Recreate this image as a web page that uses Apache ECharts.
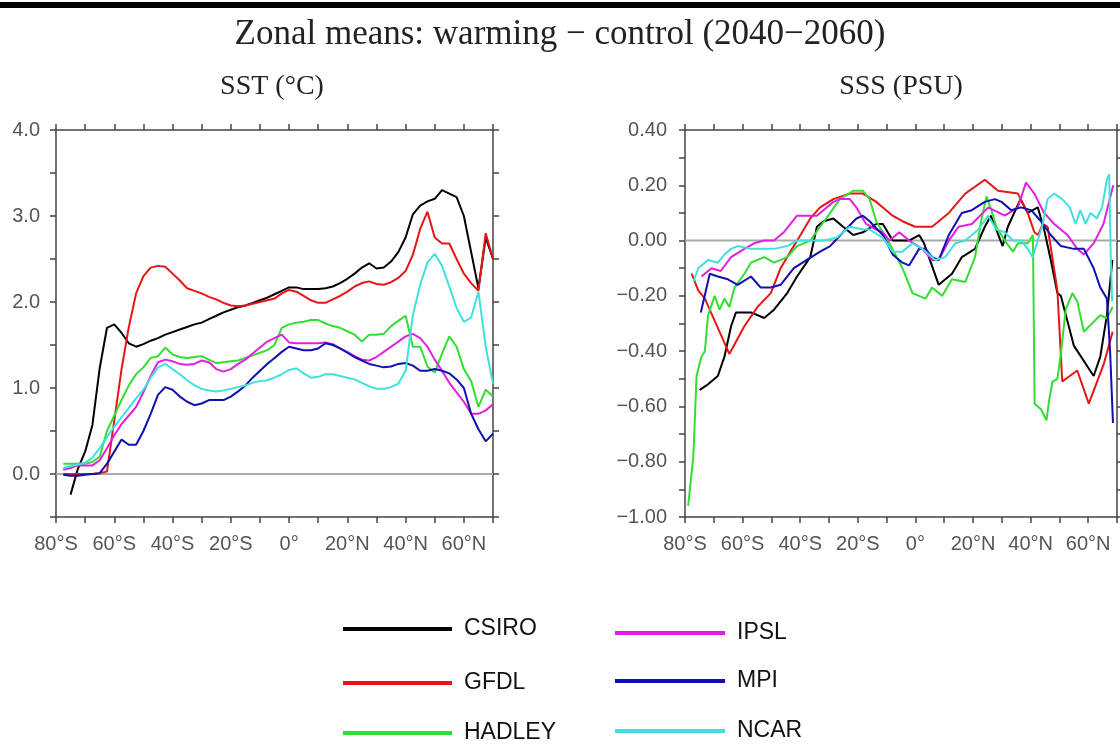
<!DOCTYPE html>
<html><head><meta charset="utf-8">
<script src="https://cdn.jsdelivr.net/npm/echarts/dist/echarts.min.js"></script>
<style>html,body{margin:0;padding:0;background:#fff}#c{width:1120px;height:744px}</style>
</head><body><div id="c"></div>
<script>
const models = ['CSIRO', 'GFDL', 'HADLEY', 'IPSL', 'MPI', 'NCAR'];
const modelColors = ['#000000', '#e81515', '#33dd33', '#e020e0', '#1010b0', '#40e0e0'];

// SST panel: common latitude grid
const sstLat = [-80,-77.5,-75,-72.5,-70,-67.5,-65,-62.5,-60,-57.5,-55,-52.5,-50,-47.5,-45,-42.5,-40,-37.5,-35,-32.5,
  -30,-27.5,-25,-22.5,-20,-17.5,-15,-12.5,-10,-7.5,-5,-2.5,0,2.5,5,7.5,10,12.5,15,17.5,
  20,22.5,25,27.5,30,32.5,35,37.5,40,42.5,45,47.5,50,52.5,55,57.5,60,62.5,65,67.5,70];
const sstCSIRO = [null,null,-0.24,0.06,0.26,0.57,1.23,1.70,1.74,1.64,1.52,1.48,1.51,1.55,1.58,1.62,1.65,1.68,1.71,1.74,
  1.76,1.80,1.84,1.88,1.91,1.94,1.96,1.99,2.02,2.05,2.09,2.13,2.17,2.17,2.15,2.15,2.15,2.16,2.18,2.22,
  2.27,2.33,2.40,2.45,2.39,2.40,2.47,2.58,2.75,3.02,3.12,3.17,3.20,3.30,3.26,3.22,3.00,2.58,2.16,2.75,2.50];
const sstGFDL = [null,0.0,0.0,0.0,0.0,0.0,0.01,0.03,0.62,1.22,1.71,2.10,2.30,2.40,2.42,2.41,2.33,2.25,2.16,2.13,
  2.10,2.06,2.03,1.99,1.96,1.95,1.96,1.98,2.00,2.02,2.04,2.10,2.14,2.12,2.07,2.02,1.99,1.99,2.03,2.07,
  2.12,2.18,2.22,2.24,2.21,2.20,2.23,2.28,2.36,2.55,2.85,3.05,2.75,2.68,2.68,2.50,2.33,2.22,2.13,2.80,2.50];
const sstHADLEY = [null,0.12,0.12,0.12,0.12,0.14,0.20,0.50,0.68,0.86,1.03,1.16,1.24,1.35,1.37,1.47,1.39,1.36,1.35,1.36,
  1.37,1.33,1.29,1.30,1.31,1.32,1.35,1.38,1.41,1.44,1.50,1.70,1.74,1.76,1.77,1.79,1.79,1.75,1.72,1.70,
  1.66,1.62,1.54,1.62,1.62,1.63,1.72,1.78,1.84,1.48,1.48,1.25,1.18,1.40,1.60,1.48,1.22,1.08,0.78,0.98,0.90];
const sstIPSL = [null,0.05,0.07,0.10,0.10,0.10,0.16,0.30,0.45,0.58,0.68,0.78,0.95,1.14,1.30,1.33,1.31,1.28,1.27,1.28,
  1.32,1.30,1.22,1.19,1.22,1.28,1.33,1.40,1.47,1.54,1.58,1.62,1.53,1.52,1.52,1.52,1.52,1.53,1.51,1.46,
  1.42,1.37,1.33,1.32,1.36,1.42,1.48,1.54,1.60,1.63,1.58,1.48,1.33,1.20,1.06,0.95,0.84,0.70,0.70,0.74,0.81];
const sstMPI = [null,-0.01,-0.02,-0.02,-0.01,0.0,0.01,0.12,0.26,0.40,0.34,0.34,0.50,0.70,0.92,1.01,0.98,0.90,0.84,0.80,
  0.82,0.86,0.86,0.86,0.90,0.96,1.03,1.12,1.20,1.28,1.35,1.42,1.48,1.46,1.44,1.44,1.46,1.52,1.50,1.46,
  1.41,1.36,1.32,1.28,1.26,1.24,1.25,1.28,1.29,1.26,1.20,1.20,1.22,1.20,1.17,1.10,1.00,0.70,0.52,0.38,0.47];
const sstNCAR = [null,0.07,0.09,0.11,0.13,0.19,0.30,0.43,0.55,0.66,0.77,0.88,0.98,1.12,1.24,1.28,1.22,1.16,1.09,1.03,
  0.99,0.97,0.96,0.97,0.99,1.01,1.03,1.06,1.08,1.09,1.12,1.16,1.21,1.23,1.17,1.12,1.13,1.16,1.16,1.14,
  1.12,1.10,1.06,1.02,0.99,0.99,1.01,1.05,1.20,1.85,2.20,2.46,2.56,2.42,2.18,1.93,1.77,1.82,2.12,1.48,1.05];

// SSS panel: each model read at its own latitudes
const sssCSIROLat = [-74.9,-72,-68.6,-66.3,-64,-62.3,-57.1,-52.5,-49.1,-44.5,-41.1,-36.5,-34.2,-31.9,-28.5,-25.1,-21.6,-18.2,-13.6,-11.3,
  -7.9,-4.5,-2.2,1.3,3,8.1,12.7,16.1,20.7,24.1,26.2,30.3,32.1,36.5,39,42.5,44.7,47,49.3,50.5,55,61.9,64.2,66.5,68.4];
const sssCSIRO = [-0.54,-0.52,-0.49,-0.42,-0.31,-0.26,-0.26,-0.28,-0.25,-0.19,-0.13,-0.06,0.05,0.07,0.08,0.05,0.02,0.03,0.06,0.06,
  0.0,0.0,0.0,0.02,-0.01,-0.16,-0.12,-0.06,-0.03,0.05,0.09,-0.02,0.05,0.15,0.10,0.12,0.04,-0.07,-0.19,-0.20,-0.38,-0.49,-0.42,-0.27,-0.07];
const sssGFDLLat = [-77.7,-75.4,-73.1,-64.6,-59.4,-54.8,-50.2,-46.8,-43.4,-39.9,-36.5,-33.1,-28.5,-22.8,-18.2,-13.6,-11.3,-7.9,-4.5,-0.1,
  5.8,11.6,17.3,24.1,28.7,35.6,39,41.3,42.6,44.2,45.9,49.3,51,56.2,60.2,65.3,68.5];
const sssGFDL = [-0.12,-0.18,-0.21,-0.41,-0.31,-0.24,-0.19,-0.10,-0.04,0.02,0.08,0.12,0.15,0.17,0.17,0.14,0.12,0.09,0.07,0.05,
  0.05,0.10,0.17,0.22,0.18,0.17,0.10,0.03,0.02,0.06,0.05,-0.18,-0.51,-0.47,-0.59,-0.45,-0.33];
const sssHADLEYLat = [-78.9,-77.1,-76,-74.3,-73.1,-72,-69.7,-68,-66.3,-64.6,-62.8,-59.4,-57.1,-52.5,-49.1,-44.5,-41.1,-36.5,-33.1,-29.6,
  -26.2,-21.6,-18.2,-15.9,-13.6,-9,-4.5,-1,3.5,5.8,9.3,12.7,17.3,20.7,23,24.7,26.4,28.1,31,33.9,
  35.6,39,40.8,41.4,43.6,45.5,46.4,47.6,49.3,50.5,52.2,54.5,56.2,58.5,61.3,64.2,66.5,68.5];
const sssHADLEY = [-0.96,-0.78,-0.49,-0.42,-0.40,-0.27,-0.20,-0.25,-0.21,-0.24,-0.17,-0.12,-0.08,-0.06,-0.08,-0.06,-0.02,0.0,0.05,0.10,
  0.15,0.18,0.18,0.15,0.07,-0.01,-0.10,-0.19,-0.21,-0.17,-0.20,-0.14,-0.15,-0.06,0.08,0.16,0.11,0.05,0.0,-0.04,
  -0.01,-0.01,0.02,-0.59,-0.61,-0.65,-0.58,-0.51,-0.50,-0.41,-0.25,-0.19,-0.22,-0.33,-0.30,-0.27,-0.28,-0.24];
const sssIPSLLat = [-74.3,-70.8,-67.6,-64,-59.4,-56,-52.5,-49.1,-45.7,-41.1,-34.2,-28.5,-26.2,-22.8,-20.5,-17.1,-13.6,-11.3,-9,-5.6,
  -2.2,2.4,5.8,8.1,11.6,15,19.6,25.3,31,35.6,38.4,41.3,44.7,48.2,52.8,56.2,58.5,61.9,65.3,68.7];
const sssIPSL = [-0.13,-0.10,-0.11,-0.06,-0.03,-0.01,0.0,0.0,0.03,0.09,0.09,0.14,0.15,0.15,0.12,0.06,0.04,0.03,0.0,0.03,
  0.0,-0.03,-0.07,-0.07,0.0,0.05,0.06,0.12,0.09,0.12,0.21,0.17,0.10,0.06,0.02,-0.03,-0.05,-0.01,0.06,0.20];
const sssMPILat = [-74.5,-71.4,-68.6,-65.1,-61.7,-57.1,-53.7,-50.2,-46.8,-42.2,-37.7,-33.1,-29.6,-25.1,-20.5,-18.2,-15.9,-11.3,-7.9,-4.5,
  -2.2,1.3,3.5,5.8,8.1,11.6,16.1,19.6,24.1,27.6,29.9,33.3,36.7,40.2,43.6,47,50.5,55,58.5,61.9,64.2,66.5,67.6,68.6];
const sssMPI = [-0.26,-0.12,-0.13,-0.14,-0.16,-0.13,-0.17,-0.17,-0.16,-0.10,-0.07,-0.04,-0.02,0.03,0.08,0.09,0.07,0.02,-0.05,-0.08,
  -0.09,-0.03,-0.03,-0.06,-0.07,0.02,0.10,0.11,0.14,0.15,0.14,0.11,0.12,0.11,0.07,0.02,-0.02,-0.03,-0.03,-0.10,-0.17,-0.21,-0.40,-0.66];
const sssNCARLat = [-77.1,-75.4,-72,-68.6,-66.3,-64,-61.7,-57.1,-53.7,-49.1,-44.5,-41.1,-36.5,-31.9,-27.4,-22.8,-18.2,-15.9,-11.3,-7.9,
  -4.5,-1,2.4,6.9,10.4,13.8,17.3,21.9,25.3,28.1,31,33.9,36.7,39,40.7,42.5,44.2,45.9,48.2,51,
  53.6,55.6,57.3,59.1,60.8,63,64.8,66.5,67.3,67.8,68.3];
const sssNCAR = [-0.15,-0.10,-0.07,-0.08,-0.05,-0.03,-0.02,-0.03,-0.03,-0.03,-0.02,0.0,0.0,0.0,0.01,0.05,0.04,0.04,0.01,-0.04,
  -0.04,-0.01,-0.03,-0.07,-0.06,-0.01,0.0,0.04,0.09,0.04,0.03,0.0,0.0,-0.03,-0.06,0.0,0.06,0.15,0.17,0.15,
  0.12,0.06,0.11,0.06,0.10,0.08,0.12,0.22,0.24,-0.05,-0.22];

const sstSeries = [sstCSIRO, sstGFDL, sstHADLEY, sstIPSL, sstMPI, sstNCAR];
const sssSeriesLat = [sssCSIROLat, sssGFDLLat, sssHADLEYLat, sssIPSLLat, sssMPILat, sssNCARLat];
const sssSeries = [sssCSIRO, sssGFDL, sssHADLEY, sssIPSL, sssMPI, sssNCAR];

const titleText = 'Zonal means: warming \u2212 control (2040\u22122060)';
const panelTitles = ['SST (\u00B0C)', 'SSS (PSU)'];

const axisColor = '#444';
const labelColor = '#555';
const sansFont = "'Liberation Sans', Arial, sans-serif";
const serifFont = "'Liberation Serif', 'Times New Roman', serif";

function latFmt(v) {
  const r = Math.round(v);
  if (r % 20 !== 0) return '';
  if (r === 0) return '0\u00B0';
  return Math.abs(r) + '\u00B0' + (r < 0 ? 'S' : 'N');
}
function sstFmt(v) {
  if (Math.abs(v - Math.round(v)) > 1e-6) return '';
  return v.toFixed(1);
}
function sssFmt(v) {
  const r = Math.round(v * 10);
  if (r % 2 !== 0) return '';
  return (r < 0 ? '\u2212' : '') + Math.abs(r / 10).toFixed(2);
}

function xAxes(g) {
  const base = {
    type: 'value', gridIndex: g, min: -80, max: 70, interval: 10,
    axisLine: { show: true, onZero: false, lineStyle: { color: axisColor, width: 1.5 } },
    axisTick: { show: true, inside: false, length: 6, lineStyle: { color: axisColor, width: 1.5 } },
    splitLine: { show: false }
  };
  return [
    Object.assign({}, base, { position: 'bottom',
      axisLabel: { show: true, margin: 17, color: labelColor, fontSize: 20, fontFamily: sansFont,
        formatter: latFmt, showMinLabel: true, showMaxLabel: true } }),
    Object.assign({}, base, { position: 'top', axisLabel: { show: false } })
  ];
}
function yAxes(g, min, max, interval, fmt, margin) {
  const base = {
    type: 'value', gridIndex: g, min: min, max: max, interval: interval,
    axisLine: { show: true, onZero: false, lineStyle: { color: axisColor, width: 1.5 } },
    axisTick: { show: true, inside: false, length: 6, lineStyle: { color: axisColor, width: 1.5 } },
    splitLine: { show: false }
  };
  return [
    Object.assign({}, base, { position: 'left',
      axisLabel: { show: true, margin: margin, color: labelColor, fontSize: 20, fontFamily: sansFont,
        formatter: fmt, showMinLabel: true, showMaxLabel: true } }),
    Object.assign({}, base, { position: 'right', axisLabel: { show: false } })
  ];
}

const series = [];
// zero reference lines
series.push({ name: 'zeroSST', type: 'line', xAxisIndex: 0, yAxisIndex: 0, data: [[-80, 0], [70, 0]],
  symbol: 'none', silent: true, z: 1, lineStyle: { color: '#aaaaaa', width: 2 }, itemStyle: { color: '#aaaaaa' } });
series.push({ name: 'zeroSSS', type: 'line', xAxisIndex: 2, yAxisIndex: 2, data: [[-80, 0], [70, 0]],
  symbol: 'none', silent: true, z: 1, lineStyle: { color: '#aaaaaa', width: 2 }, itemStyle: { color: '#aaaaaa' } });

models.forEach(function (m, i) {
  series.push({
    name: m, type: 'line', xAxisIndex: 0, yAxisIndex: 0,
    data: sstLat.map(function (la, k) { return [la, sstSeries[i][k]]; }),
    symbol: 'none', connectNulls: false, z: 2 + i,
    lineStyle: { color: modelColors[i], width: 2 }, itemStyle: { color: modelColors[i] }
  });
  series.push({
    name: m, type: 'line', xAxisIndex: 2, yAxisIndex: 2,
    data: sssSeriesLat[i].map(function (la, k) { return [la, sssSeries[i][k]]; }),
    symbol: 'none', z: 2 + i,
    lineStyle: { color: modelColors[i], width: 2 }, itemStyle: { color: modelColors[i] }
  });
});

// legend layout: one legend box per model (two columns of three)
const legendLeft = [343, 343, 343, 615, 615, 615];
const legendTop = [615, 669, 719, 619, 667, 717];
const legendIconWidth = [109, 109, 109, 110, 110, 110];
const legends = models.map(function (m, i) {
  return {
    data: [m], orient: 'vertical', left: legendLeft[i], top: legendTop[i],
    itemWidth: legendIconWidth[i], itemHeight: 4, icon: 'rect', selectedMode: false, padding: 0,
    textStyle: { fontSize: 23, fontFamily: sansFont, color: '#111', padding: [0, 0, 0, 7], lineHeight: 28 }
  };
});

const option = {
  animation: false,
  backgroundColor: '#ffffff',
  title: [
    { text: titleText, left: 560, textAlign: 'center', top: 17, padding: 0,
      textStyle: { fontFamily: serifFont, fontSize: 35, fontWeight: 'normal', color: '#222' } },
    { text: panelTitles[0], left: 272, textAlign: 'center', top: 73, padding: 0,
      textStyle: { fontFamily: serifFont, fontSize: 28, fontWeight: 'normal', color: '#222' } },
    { text: panelTitles[1], left: 901, textAlign: 'center', top: 73, padding: 0,
      textStyle: { fontFamily: serifFont, fontSize: 28, fontWeight: 'normal', color: '#222' } }
  ],
  legend: legends,
  graphic: [
    { type: 'rect', left: 0, top: 2, shape: { width: 1120, height: 6 }, style: { fill: '#000' }, silent: true }
  ],
  grid: [
    { left: 56, top: 130, width: 437, height: 387, containLabel: false },
    { left: 685, top: 130, width: 437, height: 387, containLabel: false }
  ],
  xAxis: xAxes(0).concat(xAxes(1)),
  yAxis: yAxes(0, -0.5, 4, 0.5, sstFmt, 16).concat(yAxes(1, -1, 0.4, 0.1, sssFmt, 18)),
  series: series
};

const chart = echarts.init(document.getElementById('c'), null, { renderer: 'canvas' });
chart.setOption(option);
</script>
</body></html>
